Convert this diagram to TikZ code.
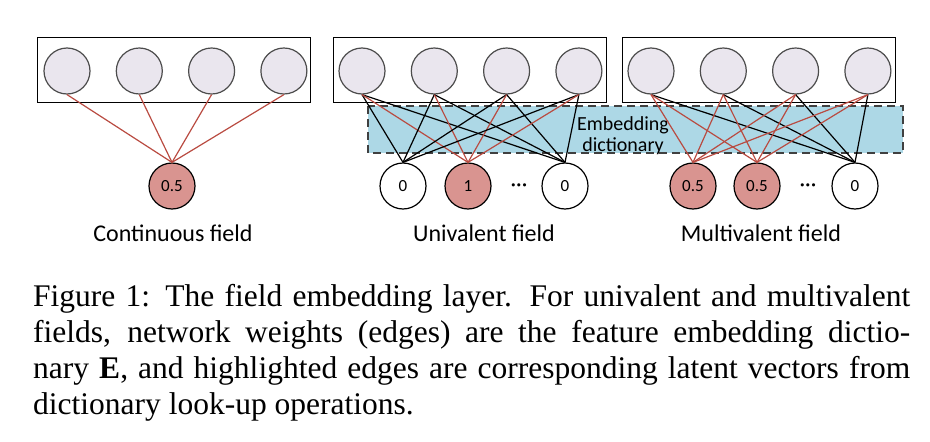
\documentclass[tikz,border=0pt]{standalone}
\usepackage{fontspec}
\setmainfont{Liberation Serif}
\newfontfamily\calfont{Carlito}
\usetikzlibrary{math}

\definecolor{hidfill}{RGB}{234,230,238}
\definecolor{hotfill}{RGB}{217,148,144}
\definecolor{hotedge}{RGB}{185,75,65}
\definecolor{dictfill}{RGB}{173,216,230}

\begin{document}
\begin{tikzpicture}
	[x=1pt,y=-1pt,
	hid/.style={circle,draw=black!70,fill=hidfill,line width=1.2pt,minimum size=46pt,inner sep=0pt},
	inp/.style={circle,draw,fill=white,line width=1.2pt,minimum size=46pt,inner sep=0pt,font=\calfont\fontsize{17}{17}\selectfont},
	hot/.style={inp,fill=hotfill},
	hotline/.style={draw=hotedge,line width=1.2pt},
	coldline/.style={draw=black,line width=1.2pt},
	dots/.style={font=\calfont\fontsize{22}{22}\selectfont,inner sep=0pt},
	lbl/.style={font=\calfont\fontsize{24}{24}\selectfont},]
	\tikzmath{\yt=71; \yb=186; \dx=72.3; \xc=67; \xu=362; \xm=651; }
	\useasboundingbox (0,0) rectangle (930,442);
	\draw[fill=dictfill,draw=black!75,line width=1.2pt,dash pattern=on 8pt off 5pt] (368,106) rectangle (903,153);
	\node[align=center,font=\calfont\fontsize{20}{21}\selectfont] (emb) at (623,136) {Embedding\\dictionary};
	\draw[line width=1pt] (37,37) rectangle (310,102);
	\draw[line width=1pt] (333,37) rectangle (606,102);
	\draw[line width=1pt] (622,37) rectangle (895,102);
	\foreach \i in {1,...,4} {
		\node[hid] (ch\i) at ({\xc+(\i-1)*\dx},\yt) {};
		\node[hid] (uh\i) at ({\xu+(\i-1)*\dx},\yt) {};
		\node[hid] (mh\i) at ({\xm+(\i-1)*\dx},\yt) {};
	}
	\node[hot] (cx) at (172,\yb) {0.5};
	\node[inp] (ux1) at (403,\yb) {0};
	\node[hot] (ux2) at (468,\yb) {1};
	\node[dots] (udots) at (519,188) {···};
	\node[inp] (ux3) at (565,\yb) {0};
	\node[hot] (mx1) at (693,\yb) {0.5};
	\node[hot] (mx2) at (757,\yb) {0.5};
	\node[dots] (mdots) at (808,188) {···};
	\node[inp] (mx3) at (855,\yb) {0};
	\node[lbl] (clab) at (173,233) {Continuous field};
	\node[lbl] (ulab) at (484,233) {Univalent field};
	\node[lbl] (mlab) at (761,233) {Multivalent field};
	\foreach \i in {1,...,4} {
		\draw[hotline] (ch\i.south) -- (cx.north);
		\draw[coldline] (uh\i.south) -- (ux1.north);
		\draw[coldline] (uh\i.south) -- (ux3.north);
		\draw[hotline] (uh\i.south) -- (ux2.north);
		\draw[coldline] (mh\i.south) -- (mx3.north);
		\draw[hotline] (mh\i.south) -- (mx1.north);
		\draw[hotline] (mh\i.south) -- (mx2.north);
	}
	\node[anchor=base west,inner sep=0pt,text width=877pt,align=justify,font=\fontsize{31.5}{36}\selectfont] (cap) at (33,306)
	{Figure 1: The field embedding layer. For univalent and multivalent\linebreak fields, network weights (edges) are the feature embedding dictio-\linebreak nary \textbf{E}, and highlighted edges are corresponding latent vectors from\linebreak dictionary look-up operations.};
\end{tikzpicture}
\end{document}
